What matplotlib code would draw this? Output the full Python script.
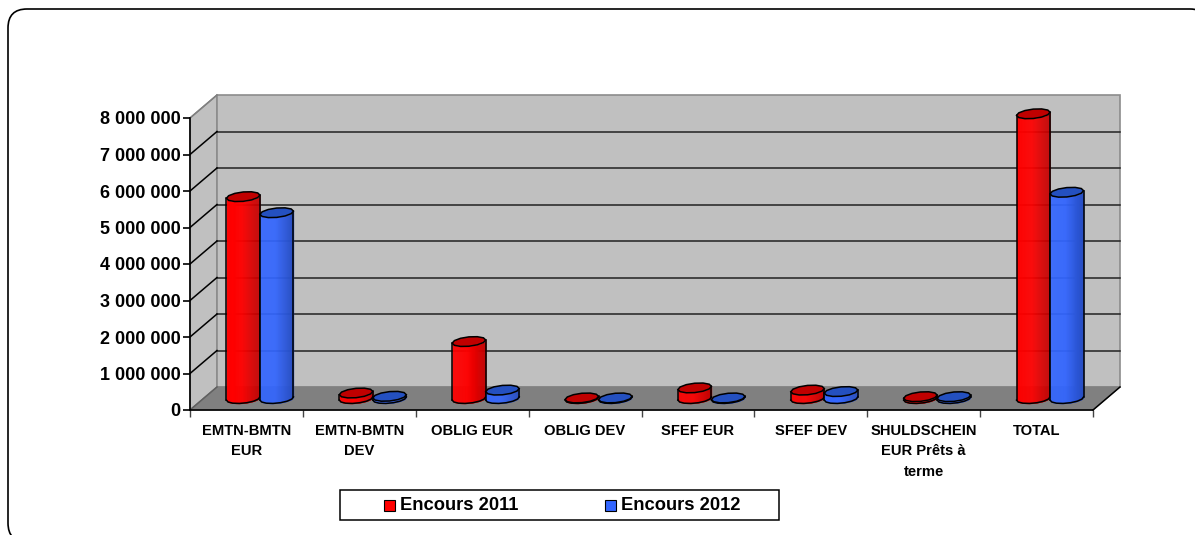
import numpy as np
from matplotlib import pyplot as plt
from matplotlib.patches import FancyBboxPatch, Polygon, Rectangle
from matplotlib.transforms import Affine2D

# === donnees ===
categories = ["EMTN-BMTN\nEUR", "EMTN-BMTN\nDEV", "OBLIG EUR", "OBLIG DEV", "SFEF EUR", "SFEF DEV",
              "SHULDSCHEIN\nEUR Prêts à\nterme", "TOTAL"]
encours_2011 = [5530000, 150000, 1560000, 15000, 290000, 230000, 50000, 7800000]
encours_2012 = [5090000, 60000, 230000, 15000, 15000, 190000, 50000, 5650000]
yticks = [0, 1000000, 2000000, 3000000, 4000000, 5000000, 6000000, 7000000, 8000000]
ylabels = ["0", "1 000 000", "2 000 000", "3 000 000", "4 000 000", "5 000 000", "6 000 000", "7 000 000",
           "8 000 000"]

# === style ===
W, H = 1195, 535
prof_x, prof_y = 27, 23
largeur = 0.297
vals_par_px = 8000000 / 292

plt.rcParams['font.family'] = ['Liberation Sans', 'DejaVu Sans']
plt.rcParams['font.weight'] = 'bold'

fig = plt.figure(figsize=(W / 100, H / 100), dpi=100)
fig.patch.set_facecolor('white')

# cadre arrondi (coupe a droite et en bas)
fond = fig.add_axes([0, 0, 1, 1])
fond.set_xlim(0, W)
fond.set_ylim(H, 0)
fond.axis('off')
fond.add_patch(FancyBboxPatch((8, 9), 1201, 533, boxstyle="round,pad=0,rounding_size=19",
                              fc='white', ec='black', lw=1.2))

ax = fig.add_axes([190 / W, 1 - 410 / H, 903 / W, 292 / H])
ax.set_xlim(0, len(categories))
ax.set_ylim(0, 8000000)
ax.patch.set_visible(False)
for s in ['top', 'right']:
    ax.spines[s].set_visible(False)
ax.spines['left'].set_visible(False)
ax.spines['bottom'].set_linewidth(1.2)
ax.set_yticks(yticks)
ax.set_yticklabels(ylabels, fontsize=13)
ax.set_xticks(np.arange(len(categories) + 1))
ax.set_xticklabels([])
ax.tick_params(axis='y', length=5, width=1.2, pad=2)
ax.tick_params(axis='x', length=5, width=1, color='#444444')

fond_tr = ax.transData + Affine2D().translate(prof_x, prof_y)
n = len(categories)


def coin(x, y, arriere=False):
    return ax.transData.transform((x, y)) + (np.array([prof_x, prof_y]) if arriere else 0)


def poly(points, **kw):
    # points en pixels ecran
    fig.add_artist(Polygon(points, closed=True, transform=None, **kw))


# murs et sol
poly([coin(0, 0), coin(0, 8000000), coin(0, 8000000, True), coin(0, 0, True)], fc='#c0c0c0', ec='#808080', lw=1, zorder=0.5)
poly([coin(0, 0, True), coin(n, 0, True), coin(n, 8000000, True), coin(0, 8000000, True)], fc='#c0c0c0', ec='#8c8c8c', lw=1.2, zorder=0.5)
poly([coin(0, 0), coin(n, 0), coin(n, 0, True), coin(0, 0, True)], fc='#808080', ec='#808080', lw=0.8, zorder=0.6)
fond.set_zorder(0)
ax.set_zorder(3)

# grille
for v in yticks[1:-1]:
    ax.plot([0, n], [v, v], color='#222222', lw=1.1, transform=fond_tr, clip_on=False, zorder=1)
    a, b = coin(0, v), coin(0, v, True)
    ax.plot([a[0], b[0]], [a[1], b[1]], color='black', lw=1.1, transform=None, clip_on=False, zorder=1)
for v in [0, 8000000]:
    a, b = coin(0, v), coin(0, v, True)
    ax.plot([a[0], b[0]], [a[1], b[1]], color='#606060' if v == 0 else '#808080', lw=1.1, transform=None, clip_on=False, zorder=1)
a, b = coin(n, 0), coin(n, 0, True)
ax.plot([a[0], b[0]], [a[1], b[1]], color='black', lw=1.1, transform=None, clip_on=False, zorder=1)
ax.plot([0, 0], [0, 8000000], color='black', lw=1.2, clip_on=False, zorder=1.5)

# cylindres au milieu de la profondeur
bar_tr = ax.transData + Affine2D().translate(prof_x / 2, prof_y / 2)
h_ell = 4.7 * vals_par_px
pente = 1.6 * vals_par_px


def ellipse(xc, y, debut=0.0, fin=2 * np.pi, m=13):
    t = np.linspace(debut, fin, m)
    return xc + largeur / 2 * np.cos(t), y + pente * np.cos(t) + h_ell * np.sin(t)


def cylindre(xc, val, clair, sombre, dessus, z):
    r = largeur / 2
    # y bas/haut de la face avant
    xs = np.linspace(-r, r, 34)
    bas = pente * xs / r - h_ell * np.sqrt(np.clip(1 - (xs / r) ** 2, 0, 1))
    c1, c2 = np.array(clair), np.array(sombre)
    for i in range(len(xs) - 1):
        f = (i + 0.5) / (len(xs) - 1)
        col = c1 if f < 0.45 else c1 + (c2 - c1) * (f - 0.45) / 0.55
        ax.fill_between([xc + xs[i], xc + xs[i + 1]], [bas[i], bas[i + 1]], [val + bas[i], val + bas[i + 1]],
                        color=col, lw=0.3, transform=bar_tr, clip_on=False, zorder=z)
    xb, yb = ellipse(xc, 0, np.pi, 2 * np.pi, 8)
    xt, yt = ellipse(xc, val)
    # contour de la face avant
    ax.plot(xb, yb, color='black', lw=1.1, transform=bar_tr, clip_on=False, zorder=z + 0.1)
    ax.plot([xc - r, xc - r], [-pente, val - pente], color='black', lw=1.1, transform=bar_tr, clip_on=False, zorder=z + 0.1)
    ax.plot([xc + r, xc + r], [pente, val + pente], color='black', lw=1.1, transform=bar_tr, clip_on=False, zorder=z + 0.1)
    ax.fill(xt, yt, fc=dessus, ec='black', lw=1.1, transform=bar_tr, clip_on=False, zorder=z + 0.2)


rouge = ((1, 0, 0), (0.75, 0, 0), '#c00000')
bleu = ((0.2, 0.4, 1), (0.15, 0.3, 0.75), '#2450c0')
for i in range(n):
    cylindre(i + 0.5 - largeur / 2, encours_2011[i], rouge[0], rouge[1], rouge[2], 4)
    cylindre(i + 0.5 + largeur / 2, encours_2012[i], bleu[0], bleu[1], bleu[2], 5)

# libelles categories
for i, lab in enumerate(categories):
    ax.text(i + 0.5, -0.048, lab, transform=ax.get_xaxis_transform(), ha='center', va='top', fontsize=10.6,
            linespacing=1.58, clip_on=False)

# legende
fond.add_patch(Rectangle((340.5, 490), 438.5, 30, fc='white', ec='black', lw=1.1))
fond.add_patch(Rectangle((384, 499.5), 11, 11, fc='#ff0000', ec='black', lw=0.8))
fond.add_patch(Rectangle((605, 499.5), 11, 11, fc='#3366ff', ec='black', lw=0.8))
fond.text(400.5, 505, "Encours 2011", fontsize=13.2, va='center', ha='left')
fond.text(621.5, 505, "Encours 2012", fontsize=13.2, va='center', ha='left')

plt.savefig('out.png', dpi=100)
